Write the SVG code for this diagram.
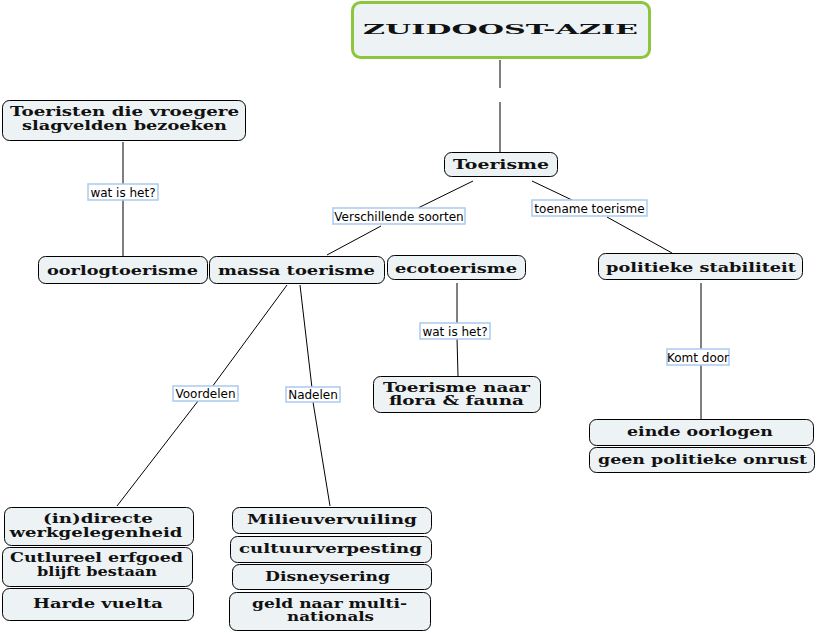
<svg xmlns="http://www.w3.org/2000/svg" width="818" height="633" viewBox="0 0 818 633">
<style>
.n{fill:#edf2f4;stroke:#000;stroke-width:1}
.m{fill:#edf2f4;stroke:#8cc63f;stroke-width:3}
.t{font-family:"DejaVu Serif",serif;font-weight:bold;font-size:13.5px;text-anchor:middle;fill:#111}
.t2{font-size:12px}
.lb{fill:#fff;stroke:#a9cbf0;stroke-width:1.5}
.lt{font-family:"DejaVu Sans",Verdana,sans-serif;font-size:12px;text-anchor:middle;fill:#000}
.c line{stroke:#000;stroke-width:1}
</style>
<rect width="818" height="633" fill="#fff"/>
<g class="c" id="connectors">
<line x1="500" y1="60" x2="500" y2="88"/>
<line x1="500" y1="102" x2="500" y2="152"/>
<line x1="123" y1="142" x2="123" y2="184"/>
<line x1="123" y1="200" x2="123" y2="256"/>
<line x1="473" y1="181" x2="418" y2="208"/>
<line x1="381" y1="226" x2="327" y2="255"/>
<line x1="532" y1="181" x2="572" y2="200"/>
<line x1="607" y1="217" x2="672" y2="253"/>
<line x1="457" y1="283" x2="457" y2="324"/>
<line x1="457" y1="338" x2="458" y2="376"/>
<line x1="701" y1="283" x2="701" y2="350"/>
<line x1="701" y1="364" x2="701" y2="419"/>
<line x1="287" y1="285" x2="212" y2="387"/>
<line x1="198" y1="401" x2="117" y2="506"/>
<line x1="300" y1="285" x2="312" y2="388"/>
<line x1="313" y1="402" x2="330" y2="506"/>
<g id="labels">
<rect class="lb" x="88" y="184" width="70" height="16"/><text class="lt" x="123" y="196.5">wat is het?</text>
<rect class="lb" x="333" y="208" width="132" height="16"/><text class="lt" x="399" y="220.5">Verschillende soorten</text>
<rect class="lb" x="532" y="200" width="115" height="16"/><text class="lt" x="589.5" y="212.5">toename toerisme</text>
<rect class="lb" x="420" y="323" width="70" height="16"/><text class="lt" x="455" y="335.5">wat is het?</text>
<rect class="lb" x="667" y="349" width="62" height="16"/><text class="lt" x="698" y="361.5">Komt door</text>
<rect class="lb" x="173" y="386" width="65" height="15"/><text class="lt" x="205.5" y="398">Voordelen</text>
<rect class="lb" x="286" y="387" width="54" height="15"/><text class="lt" x="313" y="399">Nadelen</text>
</g>
</g>
<g id="zuidoost-azie"><rect class="m" x="352.5" y="2.5" width="297" height="55" rx="8"/><text class="t" x="500.5" y="34" font-size="16" textLength="275" lengthAdjust="spacingAndGlyphs">ZUIDOOST-AZIE</text></g>
<g id="toerisme"><rect class="n" x="444.5" y="152.5" width="113" height="24" rx="7"/><text class="t" x="501" y="168.5" textLength="96" lengthAdjust="spacingAndGlyphs">Toerisme</text></g>
<g id="toeristen"><rect class="n" x="2.5" y="100.5" width="243" height="40" rx="7"/><text class="t t2" x="124.5" y="116" textLength="229" lengthAdjust="spacingAndGlyphs">Toeristen die vroegere</text><text class="t t2" x="124.5" y="129.5" textLength="205" lengthAdjust="spacingAndGlyphs">slagvelden bezoeken</text></g>
<g id="oorlogtoerisme"><rect class="n" x="38.5" y="256.5" width="169" height="27" rx="7"/><text class="t" x="122.5" y="275" textLength="151" lengthAdjust="spacingAndGlyphs">oorlogtoerisme</text></g>
<g id="massa"><rect class="n" x="209.5" y="256.5" width="175" height="27" rx="7"/><text class="t" x="296.5" y="275" textLength="157" lengthAdjust="spacingAndGlyphs">massa toerisme</text></g>
<g id="ecotoerisme"><rect class="n" x="387.5" y="255.5" width="138" height="24" rx="7"/><text class="t" x="456" y="273" textLength="122" lengthAdjust="spacingAndGlyphs">ecotoerisme</text></g>
<g id="politieke"><rect class="n" x="598.5" y="253.5" width="204" height="26" rx="7"/><text class="t" x="701" y="271.5" textLength="190" lengthAdjust="spacingAndGlyphs">politieke stabiliteit</text></g>
<g id="flora"><rect class="n" x="373.5" y="376.5" width="167" height="36" rx="7"/><text class="t t2" x="456.5" y="391.5" textLength="147" lengthAdjust="spacingAndGlyphs">Toerisme naar</text><text class="t t2" x="456.5" y="405" textLength="135" lengthAdjust="spacingAndGlyphs">flora &amp; fauna</text></g>
<g id="einde"><rect class="n" x="589.5" y="419.5" width="224" height="26" rx="7"/><text class="t" x="700" y="436" textLength="146" lengthAdjust="spacingAndGlyphs">einde oorlogen</text></g>
<g id="onrust"><rect class="n" x="589.5" y="447.5" width="225" height="25" rx="7"/><text class="t" x="702.5" y="463.5" textLength="209" lengthAdjust="spacingAndGlyphs">geen politieke onrust</text></g>
<g id="werkgelegenheid"><rect class="n" x="4.5" y="507.5" width="189" height="38" rx="7"/><text class="t t2" x="98" y="523" textLength="110" lengthAdjust="spacingAndGlyphs">(in)directe</text><text class="t t2" x="96" y="536.5" textLength="173" lengthAdjust="spacingAndGlyphs">werkgelegenheid</text></g>
<g id="erfgoed"><rect class="n" x="2.5" y="547.5" width="190" height="39" rx="7"/><text class="t t2" x="96.5" y="562" textLength="173" lengthAdjust="spacingAndGlyphs">Cutlureel erfgoed</text><text class="t t2" x="97" y="575.5" textLength="120" lengthAdjust="spacingAndGlyphs">blijft bestaan</text></g>
<g id="vuelta"><rect class="n" x="2.5" y="588.5" width="191" height="32" rx="7"/><text class="t" x="98" y="608" textLength="130" lengthAdjust="spacingAndGlyphs">Harde vuelta</text></g>
<g id="milieu"><rect class="n" x="232.5" y="507.5" width="199" height="26" rx="7"/><text class="t" x="332" y="524" textLength="170" lengthAdjust="spacingAndGlyphs">Milieuvervuiling</text></g>
<g id="cultuur"><rect class="n" x="230.5" y="536.5" width="201" height="26" rx="7"/><text class="t" x="330.5" y="552.5" textLength="183" lengthAdjust="spacingAndGlyphs">cultuurverpesting</text></g>
<g id="disney"><rect class="n" x="232.5" y="564.5" width="199" height="25" rx="7"/><text class="t" x="327.5" y="580.5" textLength="125" lengthAdjust="spacingAndGlyphs">Disneysering</text></g>
<g id="geld"><rect class="n" x="229.5" y="592.5" width="201" height="38" rx="7"/><text class="t t2" x="329.5" y="607.5" textLength="155" lengthAdjust="spacingAndGlyphs">geld naar multi-</text><text class="t t2" x="330.5" y="621" textLength="87" lengthAdjust="spacingAndGlyphs">nationals</text></g>
</svg>
